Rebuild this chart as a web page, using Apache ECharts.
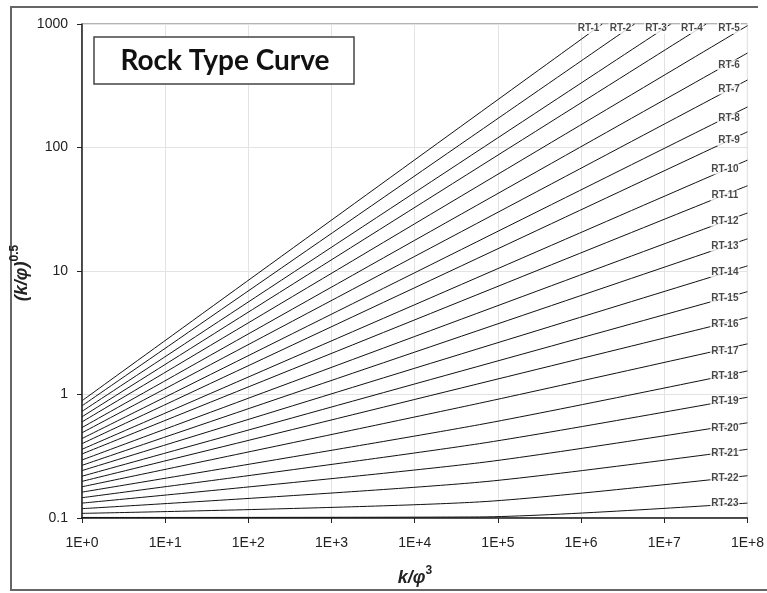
<!DOCTYPE html>
<html>
<head>
<meta charset="utf-8">
<title>Rock Type Curve</title>
<script src="https://cdn.jsdelivr.net/npm/echarts@6/dist/echarts.min.js"></script>
<style>
  html, body { margin: 0; padding: 0; background: #ffffff; }
  #chart { width: 767px; height: 593px; }
</style>
</head>
<body>
<div id="chart"></div>
<script>
// Rock type names, one curve each
const rockTypes = ['RT-1', 'RT-2', 'RT-3', 'RT-4', 'RT-5', 'RT-6', 'RT-7', 'RT-8',
  'RT-9', 'RT-10', 'RT-11', 'RT-12', 'RT-13', 'RT-14', 'RT-15', 'RT-16',
  'RT-17', 'RT-18', 'RT-19', 'RT-20', 'RT-21', 'RT-22', 'RT-23'];

// (k/phi)^0.5 where k/phi^3 = 1
const valueAtX1 = [0.89, 0.81, 0.73, 0.66, 0.60, 0.54, 0.49, 0.44, 0.40, 0.36,
  0.33, 0.295, 0.267, 0.242, 0.218, 0.198, 0.179, 0.162, 0.146, 0.132, 0.119, 0.109, 0.101];

// (k/phi)^0.5 where k/phi^3 = 6E+4 (only the flatter curves bend noticeably)
const valueAtX6e4 = [null, null, null, null, null, null, null, null, null, null,
  null, null, null, null, null, null, 0.85, 0.57, 0.40, 0.28, 0.195, 0.135, 0.102];

// (k/phi)^0.5 where k/phi^3 = 1E+8
const valueAtX1e8 = [null, null, null, null, 970, 582, 352, 213, 134, 79,
  49, 29.5, 18.2, 11, 6.8, 4.2, 2.57, 1.55, 0.95, 0.59, 0.36, 0.22, 0.132];

// k/phi^3 where the steepest curves leave the top of the chart (y = 1000)
const xAtTop = [1.8e6, 4.4e6, 1.2e7, 3.2e7];

// where each rock type name sits on its curve
const labelX = [1.23e6, 2.98e6, 7.95e6, 2.15e7, 6e7, 6e7, 6e7, 6e7, 6e7,
  5.35e7, 5.35e7, 5.35e7, 5.35e7, 5.35e7, 5.35e7, 5.35e7, 5.35e7, 5.35e7,
  5.35e7, 5.35e7, 5.35e7, 5.35e7, 5.35e7];
const labelY = [920, 920, 920, 920, 920, 466, 298, 173, 114, 67, 41, 25.4,
  15.9, 9.8, 6.0, 3.7, 2.25, 1.41, 0.885, 0.535, 0.336, 0.211, 0.132];

// axis tick labels, one per decade
const xTickLabels = ['1E+0', '1E+1', '1E+2', '1E+3', '1E+4', '1E+5', '1E+6', '1E+7', '1E+8'];
const yTickLabels = ['0.1', '1', '10', '100', '1000'];

const Y_TOP_VALUE = 1000;

function curvePoints(i) {
  const pts = [[1, valueAtX1[i]]];
  if (valueAtX6e4[i] != null) pts.push([6e4, valueAtX6e4[i]]);
  if (i < xAtTop.length) pts.push([xAtTop[i], Y_TOP_VALUE]);
  else pts.push([1e8, valueAtX1e8[i]]);
  return pts;
}

const lineSeries = rockTypes.map((name, i) => ({
  name: name,
  type: 'line',
  data: curvePoints(i),
  showSymbol: false,
  symbol: 'none',
  smooth: 0.25,
  silent: true,
  clip: true,
  lineStyle: { color: '#111', width: 1 },
  z: 2
}));

const labelSeries = {
  name: 'labels',
  type: 'scatter',
  data: rockTypes.map((name, i) => ({ name: name, value: [labelX[i], labelY[i]] })),
  symbol: 'circle',
  symbolSize: 0,
  itemStyle: { color: 'rgba(0,0,0,0)' },
  silent: true,
  clip: false,
  z: 5,
  label: {
    show: true,
    position: 'inside',
    formatter: p => p.name,
    fontFamily: 'Liberation Sans',
    fontSize: 10,
    fontWeight: 'bold',
    color: '#1a1a1a',
    backgroundColor: '#ffffff',
    padding: [1, 1, 0, 1]
  }
};

const chart = echarts.init(document.getElementById('chart'), null, { renderer: 'canvas' });

const titleFont = 'Liberation Sans';
chart.setOption({
  animation: false,
  backgroundColor: '#ffffff',
  grid: {
    left: 82, right: 18, top: 24, bottom: 75,
    show: true, borderColor: '#666', borderWidth: 1, backgroundColor: 'transparent'
  },
  xAxis: {
    type: 'log', logBase: 10, min: 1, max: 1e8, interval: 1,
    axisLine: { show: true, onZero: false, lineStyle: { color: '#222', width: 1.5 } },
    axisTick: { show: true, length: 5, lineStyle: { color: '#222' } },
    minorTick: { show: false },
    axisLabel: {
      margin: 18, fontFamily: 'Liberation Sans', fontSize: 14, color: '#222',
      formatter: v => xTickLabels[Math.round(Math.log10(v))]
    },
    splitLine: { show: true, lineStyle: { color: '#e3e3e3', width: 1 } }
  },
  yAxis: {
    type: 'log', logBase: 10, min: 0.1, max: 1000, interval: 1,
    axisLine: { show: true, onZero: false, lineStyle: { color: '#222', width: 1.5 } },
    axisTick: { show: true, length: 5, lineStyle: { color: '#222' } },
    minorTick: { show: false },
    axisLabel: {
      margin: 14, fontFamily: 'Liberation Sans', fontSize: 14, color: '#222',
      formatter: v => yTickLabels[Math.round(Math.log10(v)) + 1]
    },
    splitLine: { show: true, lineStyle: { color: '#e3e3e3', width: 1 } }
  },
  series: lineSeries.concat([labelSeries]),
  graphic: [
    {
      type: 'polyline', silent: true, z: 0,
      shape: { points: [[758, 7], [11, 7], [11, 590], [767, 590]] },
      style: { stroke: '#666', lineWidth: 2, fill: null }
    },
    {
      type: 'rect', silent: true, z: 10,
      shape: { x: 94, y: 37, width: 260, height: 47 },
      style: { fill: '#ffffff', stroke: '#444', lineWidth: 1.5 }
    },
    {
      type: 'text', silent: true, z: 11, x: 225, y: 61,
      style: {
        text: 'Rock Type Curve', font: 'bold 28px Lato', fill: '#111',
        align: 'center', verticalAlign: 'middle', textAlign: 'center', textVerticalAlign: 'middle'
      }
    },
    {
      type: 'text', silent: true, z: 11, x: 415, y: 578,
      style: {
        text: '{i|k/φ}{s|3}',
        align: 'center', verticalAlign: 'middle', textAlign: 'center', textVerticalAlign: 'middle',
        rich: {
          i: { fontFamily: titleFont, fontSize: 18, fontWeight: 'bold', fontStyle: 'italic', fill: '#222', color: '#222', lineHeight: 26 },
          s: { fontFamily: titleFont, fontSize: 12, fontWeight: 'bold', fill: '#222', color: '#222', lineHeight: 14, verticalAlign: 'top' }
        }
      }
    },
    {
      type: 'text', silent: true, z: 11, x: 22, y: 273, rotation: Math.PI / 2,
      style: {
        text: '{i|(k/φ)}{s|0.5}',
        align: 'center', verticalAlign: 'middle', textAlign: 'center', textVerticalAlign: 'middle',
        rich: {
          i: { fontFamily: titleFont, fontSize: 18, fontWeight: 'bold', fontStyle: 'italic', fill: '#222', color: '#222', lineHeight: 26 },
          s: { fontFamily: titleFont, fontSize: 12, fontWeight: 'bold', fill: '#222', color: '#222', lineHeight: 14, verticalAlign: 'top' }
        }
      }
    }
  ]
});
</script>
</body>
</html>
